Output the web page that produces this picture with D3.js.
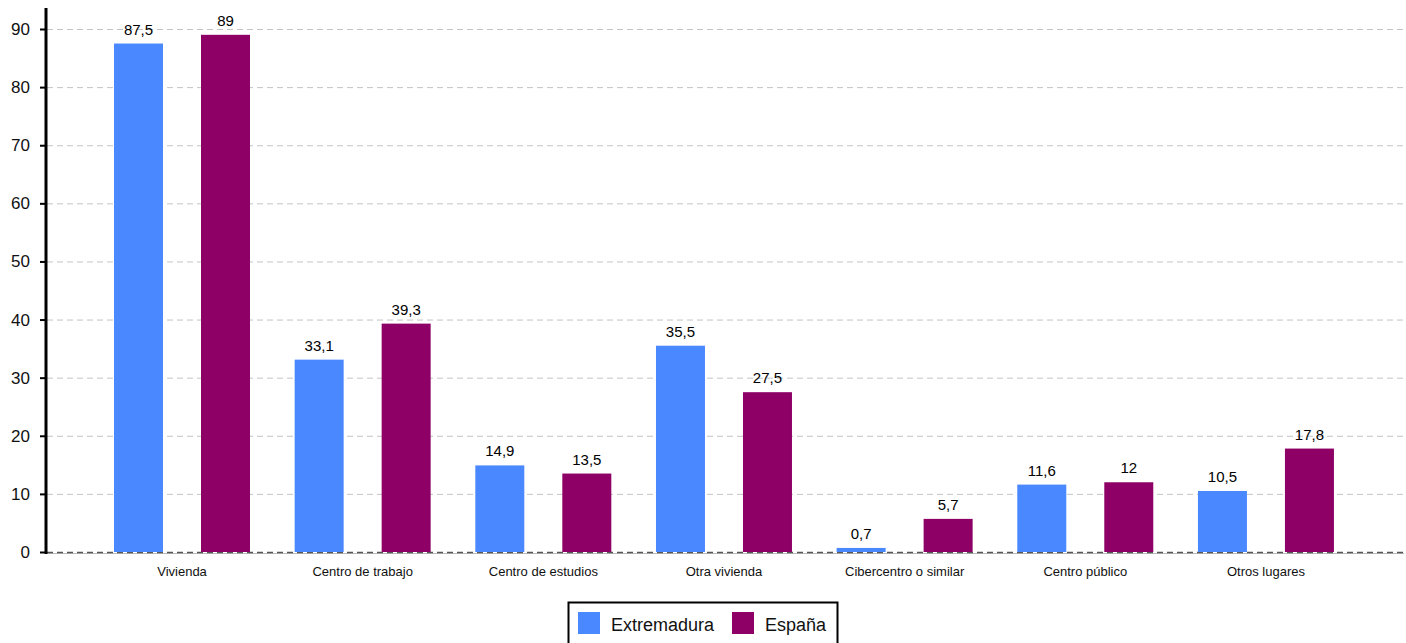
<!DOCTYPE html>
<html><head><meta charset="utf-8">
<script src="https://cdn.jsdelivr.net/npm/d3@7"></script>
<style>body{margin:0;background:#fff}svg{display:block;font-family:"Liberation Sans",Arial,sans-serif}</style>
</head><body><svg id="c" width="1406" height="643"></svg>
<script>
const categories = ["Vivienda","Centro de trabajo","Centro de estudios","Otra vivienda","Cibercentro o similar","Centro público","Otros lugares"];
const series = ["Extremadura","España"];
const extremadura = [87.5,33.1,14.9,35.5,0.7,11.6,10.5];
const espana = [89,39.3,13.5,27.5,5.7,12,17.8];
const yTicks = [0,10,20,30,40,50,60,70,80,90];
const colors = ["#4a88ff","#8e0066"];

const svg = d3.select("#c");
const y = d3.scaleLinear().domain([0,90]).range([552,29]);
const x = d3.scaleBand().domain(categories).range([91.7,1356.3]);
const xi = d3.scaleBand().domain(series).range([22.3,158.3]).paddingInner(38/87);
const fmt = v => String(v).replace(".",",");

// gridlines
svg.append("g").selectAll("line").data(yTicks.filter(d=>d>0)).join("line")
  .attr("x1",47).attr("x2",1404).attr("y1",d=>y(d)+0.5).attr("y2",d=>y(d)+0.5)
  .attr("stroke","#c4c4c4").attr("stroke-dasharray","6,4");
// baseline
svg.append("line").attr("x1",47).attr("x2",1404).attr("y1",553.5).attr("y2",553.5).attr("stroke","#bbb").attr("stroke-width",1);
svg.append("line").attr("x1",47).attr("x2",1404).attr("y1",552.5).attr("y2",552.5).attr("stroke","#555").attr("stroke-dasharray","6,4").attr("stroke-width",1.5);

const data = categories.map((c,i)=>({c, vals:[extremadura[i],espana[i]]}));
const g = svg.append("g").selectAll("g").data(data).join("g").attr("transform",d=>`translate(${x(d.c)},0)`);
g.selectAll("rect").data(d=>d.vals.map((v,j)=>({s:series[j],v,j}))).join("rect")
  .attr("x",d=>xi(d.s)).attr("width",xi.bandwidth())
  .attr("y",d=>y(d.v)).attr("height",d=>552-y(d.v)).attr("fill",d=>colors[d.j]);
g.selectAll("text.v").data(d=>d.vals.map((v,j)=>({s:series[j],v,j}))).join("text")
  .attr("class","v").attr("x",d=>xi(d.s)+xi.bandwidth()/2).attr("y",d=>y(d.v)-9)
  .attr("text-anchor","middle").attr("font-size",15).attr("fill","#000").text(d=>fmt(d.v));

// x labels
svg.append("g").selectAll("text").data(categories).join("text")
  .attr("x",d=>x(d)+x.bandwidth()/2).attr("y",576).attr("text-anchor","middle")
  .attr("font-size",13).attr("fill","#111").text(d=>d);

// y axis
const ya = svg.append("g");
ya.append("line").attr("x1",46).attr("x2",46).attr("y1",8).attr("y2",554).attr("stroke","#000").attr("stroke-width",3);
ya.selectAll("line.t").data(yTicks).join("line").attr("class","t")
  .attr("x1",40).attr("x2",46).attr("y1",d=>y(d)+0.5).attr("y2",d=>y(d)+0.5).attr("stroke","#000").attr("stroke-width",2);
ya.selectAll("text").data(yTicks).join("text")
  .attr("x",30).attr("y",d=>y(d)+6).attr("text-anchor","end").attr("font-size",17).attr("fill","#111").text(d=>d);

// legend
const lg = svg.append("g");
lg.append("rect").attr("x",568.5).attr("y",602.5).attr("width",269).attr("height",50).attr("fill","#fff").attr("stroke","#000").attr("stroke-width",2);
const lx = [578,732];
series.forEach((s,i)=>{
  lg.append("rect").attr("x",lx[i]).attr("y",612).attr("width",22).attr("height",22).attr("fill",colors[i]);
  lg.append("text").attr("x",lx[i]+33).attr("y",631).attr("font-size",18).attr("fill","#111").text(s);
});
</script></body></html>
